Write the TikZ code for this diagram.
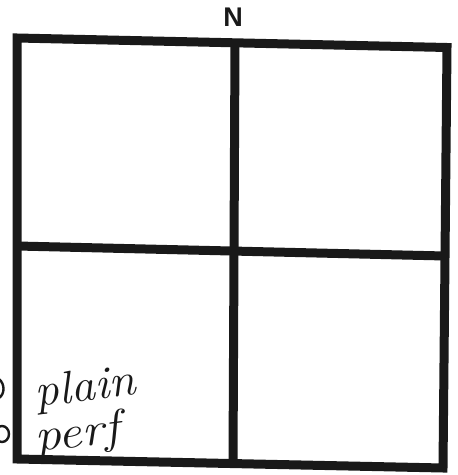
\documentclass[tikz,border=0pt]{standalone}
\usepackage{fontspec}
\usepackage{graphicx}
\usepackage{tikz}
\usetikzlibrary{positioning, calc}
\newfontfamily\northfont{Liberation Sans}
\definecolor{inkblack}{RGB}{25, 25, 25}

\begin{document}
\begin{tikzpicture}[x=1pt, y=1pt,
  frame/.style={draw=inkblack, line width=9pt, line cap=butt, line join=miter},
  pen/.style={draw=inkblack, line width=2.4pt, line cap=round},
  northlabel/.style={font=\northfont\bfseries\fontsize{27}{27}\selectfont, text=inkblack, inner sep=0pt},
  scrawl/.style={font=\itshape\fontsize{46}{46}\selectfont, text=inkblack, inner sep=0pt, anchor=base west, rotate=7}
]
\useasboundingbox (0, 0) rectangle (458, 475);
\clip (0, 0) rectangle (458, 475);

% Outer frame
\coordinate (tl) at (17, 437);
\coordinate (tr) at (447, 427.5);
\coordinate (br) at (443, 7);
\coordinate (bl) at (17, 16);
\draw[frame] (tl) -- (tr) -- (br) -- (bl) -- cycle;

% Cross
\coordinate (topmid) at (235, 432.5);
\coordinate (botmid) at (233, 11.5);
\coordinate (leftmid) at (17, 229);
\coordinate (rightmid) at (445, 219);
\draw[frame] (topmid) -- (botmid);
\draw[frame] (leftmid) -- (rightmid);

% North mark
\node[northlabel] (north) at (233, 458) {N};

% Handwritten notes
\node[scrawl] (plain) at (36, 68) {\scalebox{1.05}[1]{plain}};
\node[scrawl] (perf) at (36, 23) {\scalebox{1.15}[1]{perf}};

% Cut-off marks at the left edge
\draw[pen] (-1, 96) .. controls (5, 91) and (5, 81) .. (-1, 77);
\draw[pen] (2, 41) ellipse (7 and 8);
\end{tikzpicture}
\end{document}
